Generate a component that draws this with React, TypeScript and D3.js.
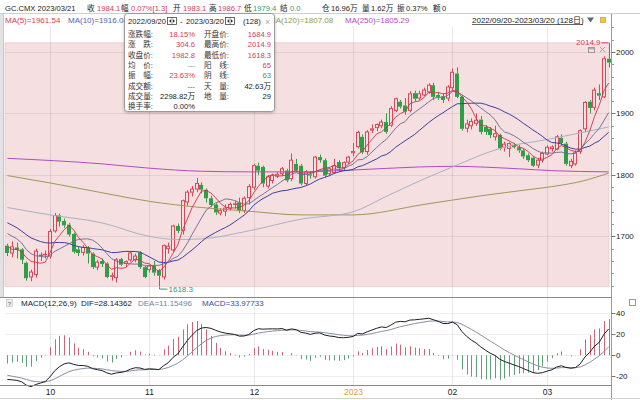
import React from "react";
import * as d3 from "d3";

// ---------- data ----------
const dates = [
  "2022/09/20","2022/09/21","2022/09/22","2022/09/23","2022/09/26","2022/09/27","2022/09/28","2022/09/29","2022/09/30",
  "2022/10/03","2022/10/04","2022/10/05","2022/10/06","2022/10/07","2022/10/10","2022/10/11","2022/10/12","2022/10/13","2022/10/14","2022/10/17","2022/10/18","2022/10/19","2022/10/20","2022/10/21","2022/10/24","2022/10/25","2022/10/26","2022/10/27","2022/10/28","2022/10/31",
  "2022/11/01","2022/11/02","2022/11/03","2022/11/04","2022/11/07","2022/11/08","2022/11/09","2022/11/10","2022/11/11","2022/11/14","2022/11/15","2022/11/16","2022/11/17","2022/11/18","2022/11/21","2022/11/22","2022/11/23","2022/11/24","2022/11/25","2022/11/28","2022/11/29","2022/11/30",
  "2022/12/01","2022/12/02","2022/12/05","2022/12/06","2022/12/07","2022/12/08","2022/12/09","2022/12/12","2022/12/13","2022/12/14","2022/12/15","2022/12/16","2022/12/19","2022/12/20","2022/12/21","2022/12/22","2022/12/23","2022/12/27","2022/12/28","2022/12/29","2022/12/30",
  "2023/01/03","2023/01/04","2023/01/05","2023/01/06","2023/01/09","2023/01/10","2023/01/11","2023/01/12","2023/01/13","2023/01/16","2023/01/17","2023/01/18","2023/01/19","2023/01/20","2023/01/23","2023/01/24","2023/01/25","2023/01/26","2023/01/27","2023/01/30","2023/01/31",
  "2023/02/01","2023/02/02","2023/02/03","2023/02/06","2023/02/07","2023/02/08","2023/02/09","2023/02/10","2023/02/13","2023/02/14","2023/02/15","2023/02/16","2023/02/17","2023/02/20","2023/02/21","2023/02/22","2023/02/23","2023/02/24","2023/02/27","2023/02/28",
  "2023/03/01","2023/03/02","2023/03/03","2023/03/06","2023/03/07","2023/03/08","2023/03/09","2023/03/10","2023/03/13","2023/03/14","2023/03/15","2023/03/16","2023/03/17","2023/03/20",
];

const opens = [
  1684.9,1673,1682,1679,1657,1634,1638,1669,1670,
  1668,1709,1734,1725,1719,1704,1679,1674,1681,1672,1650,1660,1656,1635,1633,1663,1656,1662,1662,1674,1650,
  1646,1652,1645,1634,1680,1678,1717,1710,1756,1772,1777,1784,1776,1762,1752,1738,1741,1746,1752,1755,1742,1763,
  1780,1815,1813,1782,1791,1798,1802,1807,1794,1818,1815,1786,1801,1797,1829,1824,1802,1804,1821,1812,1821,
  1836,1846,1862,1838,1873,1877,1880,1886,1881,1905,1919,1913,1905,1933,1925,1930,1935,1946,1930,1928,1925,
  1942,1965,1927,1876,1880,1884,1890,1878,1875,1862,1865,1845,1843,1849,1845,1840,1832,1828,1816,1824,
  1834,1843,1842,1860,1851,1815,1818,1838,1875,1919,1910,1933,1927,1989,
];
const highs = [
  1688,1692,1690,1681,1659,1646,1680,1674,1677,
  1712,1738,1737,1729,1722,1706,1684,1686,1684,1674,1662,1664,1658,1641,1665,1665,1661,1676,1672,1676,1652,
  1654,1660,1647,1687,1690,1719,1721,1760,1775,1782,1795,1788,1778,1766,1754,1746,1752,1755,1758,1763,1765,1785,
  1818,1820,1815,1800,1802,1805,1813,1810,1835,1826,1818,1808,1806,1831,1833,1827,1812,1826,1824,1822,1831,
  1852,1872,1866,1873,1882,1884,1890,1900,1912,1926,1922,1925,1936,1937,1937,1942,1949,1950,1935,1932,1946,
  1973,1975,1930,1890,1892,1900,1896,1881,1878,1880,1867,1854,1853,1852,1849,1843,1835,1830,1828,1838,
  1848,1848,1865,1866,1854,1826,1840,1874,1920,1922,1942,1947,1993,2014.9,
];
const lows = [
  1668,1666,1664,1655,1628,1627,1633,1660,1664,
  1664,1706,1716,1714,1700,1672,1668,1669,1656,1647,1645,1650,1632,1628,1625,1652,1650,1659,1658,1647,1632,
  1641,1636,1618.3,1630,1672,1675,1705,1703,1750,1765,1772,1770,1755,1748,1735,1734,1733,1742,1745,1738,1738,1752,
  1776,1800,1780,1778,1786,1795,1798,1788,1790,1805,1783,1783,1794,1794,1820,1796,1798,1802,1805,1808,1818,
  1830,1843,1834,1833,1868,1871,1876,1867,1878,1902,1908,1898,1902,1920,1922,1928,1932,1922,1922,1917,1920,
  1936,1925,1872,1869,1874,1880,1866,1865,1860,1856,1840,1838,1829,1843,1836,1826,1821,1813,1811,1820,
  1832,1838,1840,1848,1815,1811,1815,1834,1870,1900,1905,1922,1925,1975,
];
const closes = [
  1673,1683,1678,1662,1632,1642,1676,1669.5,1671,
  1708,1734,1724,1718,1703,1675,1673,1682,1672,1650,1658,1655,1634,1636,1662,1654,1659,1673,1668,1650,1634,
  1652,1641,1636,1685,1684,1717,1709,1758,1772,1777,1786,1776,1762,1751,1739,1742,1746,1752,1753,1742,1762,1781,
  1815,1807,1786,1797,1799,1801,1810,1791,1824,1807,1786,1805,1799,1829,1824,1799,1810,1815,1811,1820,1829,
  1838,1869,1837,1870,1875,1882,1886,1870,1908,1924,1911,1903,1932,1924,1932,1938,1946,1927,1927,1922,1943,
  1967,1927,1875,1883,1887,1889,1870,1870,1865,1867,1843,1850,1851,1845,1840,1830,1824,1815,1824,1835,
  1845,1845.5,1862,1852,1818,1822,1836,1872,1918,1909,1938,1929,1989,1982.8,
];
// closes of the 19 sessions before the first visible bar (for MA5/10/20 warm-up)
const priorCloses = [1761,1761,1771,1749,1749,1736,1726,1709,1721,1713,1727,1721,1728,1740,1711,1709,1677,1683,1678.2];

// long moving averages (bar index, value)
const ma60Idx = [0, 9, 20, 30, 36, 41, 51, 62, 73, 80, 87, 94, 104, 115, 127];
const ma60Val = [1747, 1735, 1722, 1700, 1695, 1696, 1709, 1728, 1740, 1765, 1790, 1813, 1843, 1859, 1878];
const ma120Idx = [0, 9, 20, 30, 41, 51, 62, 73, 88, 100, 110, 115, 122, 127];
const ma120Val = [1799, 1787, 1771, 1757, 1747, 1741, 1735, 1735, 1752, 1766, 1776, 1781, 1791, 1803];
const ma250Idx = [0, 20, 30, 41, 51, 62, 73, 87, 94, 108, 115, 127];
const ma250Val = [1827, 1818, 1811, 1806, 1805, 1805, 1808, 1813, 1814, 1810, 1807, 1805];

// MACD state at the session before the first bar
const ema12Seed = 1716;
const ema26Seed = 1737;
const deaSeed = -18;

const priceTicks = [1700, 1800, 1900, 2000];
const macdTicks = [40, 20, 0, -20];

const headerItems = [
  { t: "GC.CMX 2023/03/21", x: 5, c: "#222" },
  { t: "收", x: 87, c: "#222" }, { t: "1984.1", x: 97, c: "#d23c5a" },
  { t: "幅", x: 121, c: "#222" }, { t: "0.07%[1.3]", x: 131, c: "#d23c5a" },
  { t: "开", x: 173, c: "#222" }, { t: "1983.1", x: 183, c: "#d23c5a" },
  { t: "高", x: 209, c: "#222" }, { t: "1986.7", x: 218, c: "#d23c5a" },
  { t: "低", x: 244, c: "#222" }, { t: "1979.4", x: 253, c: "#2a9d78" },
  { t: "结", x: 280, c: "#222" }, { t: "0.0", x: 290, c: "#2a9d78" },
  { t: "仓", x: 322, c: "#222" }, { t: "16.96万", x: 331, c: "#222" },
  { t: "量", x: 362, c: "#222" }, { t: "1.62万", x: 371, c: "#222" },
  { t: "振", x: 397, c: "#222" }, { t: "0.37%", x: 406, c: "#222" },
  { t: "额", x: 433, c: "#222" }, { t: "0", x: 442, c: "#222" },
];
const legendItems = [
  { t: "MA(5)=1961.54", x: 5, c: "#d8404f" },
  { t: "MA(10)=1916.04", x: 68, c: "#4f63b0" },
  { t: "MA(120)=1807.08", x: 269, c: "#8c9a4e" },
  { t: "MA(250)=1805.29", x: 345, c: "#b04cc4" },
];

const boxLeftLabels = ["涨跌幅:", "涨　跌:", "收盘价:", "均　价:", "振　幅:", "成交额:", "成交量:", "换手率:"];
const boxLeftValues = ["18.15%", "304.6", "1982.8", "---", "23.63%", "---", "2298.82万", "0.00%"];
const boxLeftColors = ["#d23c5a", "#d23c5a", "#d23c5a", "#888", "#d23c5a", "#555", "#222", "#222"];
const boxRightLabels = ["开盘价:", "最高价:", "最低价:", "阳　线:", "阴　线:", "天　量:", "地　量:"];
const boxRightValues = ["1684.9", "2014.9", "1618.3", "65", "63", "42.63万", "29"];
const boxRightColors = ["#d23c5a", "#d23c5a", "#d23c5a", "#d23c5a", "#2a9d78", "#222", "#222"];

const FONT = "'Liberation Sans', 'Noto Sans CJK SC', sans-serif";
const RED = "#d8485a";
const GREEN = "#2f9e44";
const BG = "#f5dfe0";

export default function App() {
  const N = closes.length;
  const x = d3.scaleBand<number>().domain(d3.range(N)).range([5, 611]);
  const step = x.step();
  const cx = (i: number) => Math.round((x(i) as number) + step / 2) + 0.5;
  const cxf = (i: number) => (x(i) as number) + step / 2;
  const y = d3.scaleLinear().domain([1700, 2000]).range([236.4, 52]);
  const ym = d3.scaleLinear().domain([-20, 40]).range([376.4, 313]);

  // moving averages from closes
  const all = priorCloses.concat(closes);
  const off = priorCloses.length;
  const ma = (n: number) => closes.map((_, i) => d3.mean(all.slice(i + off - n + 1, i + off + 1)) as number);
  const ma5 = ma(5), ma10 = ma(10), ma20 = ma(20);

  // MACD
  let e12 = ema12Seed, e26 = ema26Seed, dea = deaSeed;
  const difs: number[] = [], deas: number[] = [], hist: number[] = [];
  closes.forEach((c) => {
    e12 = e12 * 11 / 13 + c * 2 / 13;
    e26 = e26 * 25 / 27 + c * 2 / 27;
    const dif = e12 - e26;
    dea = dea * 0.8 + dif * 0.2;
    difs.push(dif); deas.push(dea); hist.push(2 * (dif - dea));
  });

  const lineIdx = d3.line<number>().x((_, i) => cxf(i)).y((v) => y(v));
  const sampledLine = (idx: number[], vals: number[]) =>
    d3.line<number>().x((_, k) => cxf(idx[k])).y((v) => y(v)).curve(d3.curveMonotoneX)(vals) || "";
  const macdLine = d3.line<number>().x((_, i) => cxf(i)).y((v) => ym(v));

  // month boundaries
  const monthStarts: { i: number; label: string; year: boolean }[] = [];
  dates.forEach((d, i) => {
    if (i > 0 && d.slice(5, 7) !== dates[i - 1].slice(5, 7)) {
      const mm = d.slice(5, 7);
      monthStarts.push({ i, label: mm === "01" ? d.slice(0, 4) : mm, year: mm === "01" });
    }
  });

  const hiIdx = d3.maxIndex(highs);
  const loIdx = d3.minIndex(lows);
  const hi = highs[hiIdx], lo = lows[loIdx];

  const pinkTop = y(hi), pinkBot = y(lo);
  const axisX = 611.5;

  const minorTicks = d3.range(1620, 2041, 20).filter((v) => v % 100 !== 0);
  const BF = 7.6; // box font size

  return (
    <svg width={640} height={400} style={{ position: "fixed", left: 0, top: 0, background: "#fff" }} fontFamily={FONT}>
      <defs>
        <filter id="sh" x="-10%" y="-10%" width="130%" height="130%">
          <feDropShadow dx="0" dy="1" stdDeviation="1.5" floodColor="#000" floodOpacity="0.25" />
        </filter>
      </defs>
      <rect width={640} height={400} fill="#fff" />

      {/* header */}
      {headerItems.map((h, k) => (
        <text key={k} x={h.x} y={11} fontSize={7.6} fill={h.c}>{h.t}</text>
      ))}
      <line x1={0} x2={640} y1={13.5} y2={13.5} stroke="#cfcfcf" />
      <rect x={0} y={14} width={3} height={283} fill="#e2e2e2" />
      <line x1={3.5} x2={3.5} y1={14} y2={297} stroke="#c8c8c8" />

      {/* pink selection band */}
      <rect x={5} y={pinkTop} width={604} height={pinkBot - pinkTop} fill={BG} stroke="#ecc9cd" strokeWidth={0.8} />

      {/* grid */}
      {monthStarts.map((m) => (
        <line key={"vg" + m.i} x1={cx(m.i)} x2={cx(m.i)} y1={26} y2={385} stroke="#000" strokeOpacity={0.09} />
      ))}
      {priceTicks.map((t) => (
        <line key={"hg" + t} x1={5} x2={axisX} y1={Math.round(y(t)) + 0.5} y2={Math.round(y(t)) + 0.5} stroke="#000" strokeOpacity={0.07} />
      ))}

      {/* candles */}
      {closes.map((c, i) => {
        const o = opens[i], h = highs[i], l = lows[i];
        const up = c >= o;
        const X = cx(i);
        const top = y(Math.max(o, c)), bot = y(Math.min(o, c));
        const col = up ? RED : GREEN;
        return (
          <g key={"c" + i}>
            <line x1={X} x2={X} y1={y(h)} y2={top} stroke={col} strokeWidth={1} />
            <line x1={X} x2={X} y1={bot} y2={y(l)} stroke={col} strokeWidth={1} />
            {up ? (
              <rect x={X - 2} y={top} width={3} height={Math.max(bot - top, 0.6)} fill={BG} stroke={col} strokeWidth={1} />
            ) : (
              <rect x={X - 2.5} y={top} width={4} height={Math.max(bot - top, 1)} fill={col} />
            )}
          </g>
        );
      })}

      {/* moving averages */}
      <path d={sampledLine(ma250Idx, ma250Val)} fill="none" stroke="#b04cc4" strokeWidth={1} />
      <path d={sampledLine(ma120Idx, ma120Val)} fill="none" stroke="#9a9a58" strokeWidth={1} />
      <path d={sampledLine(ma60Idx, ma60Val)} fill="none" stroke="#a8b2c2" strokeWidth={1} />
      <path d={lineIdx(ma20) || ""} fill="none" stroke="#3d3fa0" strokeWidth={1} />
      <path d={lineIdx(ma10) || ""} fill="none" stroke="#6a6890" strokeWidth={0.9} />
      <path d={lineIdx(ma5) || ""} fill="none" stroke="#cc3548" strokeWidth={0.9} />

      {/* high / low markers */}
      <text x={cx(hiIdx) - 9} y={y(hi) + 2.5} fontSize={8} fill="#d23c5a" textAnchor="end">{hi.toFixed(1)}</text>
      <line x1={cx(hiIdx) - 8} x2={cx(hiIdx) - 1} y1={y(hi)} y2={y(hi)} stroke="#d23c5a" />
      <path d={`M${cx(loIdx)},${y(lo) + 0.5}V${y(lo) + 2.5}H${cx(loIdx) + 8}`} fill="none" stroke="#2a9d78" />
      <text x={cx(loIdx) + 9} y={y(lo) + 5} fontSize={8} fill="#2a9d78">{lo.toFixed(1)}</text>

      {/* small icons top-right of band */}
      <rect x={588.5} y={47.5} width={6} height={5} fill="none" stroke="#999" />
      <line x1={588.5} x2={594.5} y1={48.8} y2={48.8} stroke="#999" />
      <path d="M600,47 L605,52 M605,47 L600,52" stroke="#999" strokeWidth={0.9} />

      {/* legend */}
      {legendItems.map((l, k) => (
        <text key={"lg" + k} x={l.x} y={23} fontSize={8} fill={l.c}>{l.t}</text>
      ))}
      <text x={472} y={23} fontSize={8} fill="#222">2022/09/20-2023/03/20 (128日)</text>
      <line x1={472} x2={583} y1={24.5} y2={24.5} stroke="#222" strokeWidth={0.7} />
      <path d="M587,17.5 L594,17.5 L590.5,22.5 Z" fill="#666" />
      <rect x={600.5} y={17.5} width={5} height={5} fill="#f3c44a" stroke="#d6a535" strokeWidth={0.8} />

      {/* right price axis */}
      <line x1={axisX} x2={axisX} y1={14} y2={400} stroke="#9a9a9a" />
      {priceTicks.map((t) => (
        <g key={"pt" + t}>
          <line x1={axisX} x2={axisX + 4} y1={Math.round(y(t)) + 0.5} y2={Math.round(y(t)) + 0.5} stroke="#777" />
          <text x={616} y={y(t) + 3} fontSize={8} fill="#222">{t}</text>
        </g>
      ))}
      {minorTicks.map((t) => (
        <line key={"mt" + t} x1={axisX} x2={axisX + 2.5} y1={Math.round(y(t)) + 0.5} y2={Math.round(y(t)) + 0.5} stroke="#999" />
      ))}

      {/* info box */}
      <rect x={124.5} y={13.5} width={150} height={98} rx={3} fill="#fff" stroke="#9a9a9a" filter="url(#sh)" />
      <text x={128} y={24} fontSize={BF} fill="#222">2022/09/20</text>
      <g>
        <rect x={167.5} y={17.5} width={9} height={7} fill="#fff" stroke="#444" strokeWidth={0.8} />
        <line x1={172} x2={172} y1={17.5} y2={24.5} stroke="#444" strokeWidth={0.6} />
        <path d="M171,19.3 L171,22.7 L169,21 Z M173,19.3 L173,22.7 L175,21 Z" fill="#333" />
      </g>
      <text x={180} y={24} fontSize={BF} fill="#222">-</text>
      <text x={186} y={24} fontSize={BF} fill="#222">2023/03/20</text>
      <g>
        <rect x={225.5} y={17.5} width={9} height={7} fill="#fff" stroke="#444" strokeWidth={0.8} />
        <line x1={230} x2={230} y1={17.5} y2={24.5} stroke="#444" strokeWidth={0.6} />
        <path d="M229,19.3 L229,22.7 L227,21 Z M231,19.3 L231,22.7 L233,21 Z" fill="#333" />
      </g>
      <text x={243} y={24} fontSize={BF} fill="#222">(128)</text>
      <text x={265} y={24.5} fontSize={9} fill="#aaa">×</text>
      {boxLeftLabels.map((l, k) => (
        <g key={"bl" + k}>
          <text x={128} y={37 + k * 10.3} fontSize={BF} fill="#333">{l}</text>
          <text x={195} y={37 + k * 10.3} fontSize={BF} fill={boxLeftColors[k]} textAnchor="end">{boxLeftValues[k]}</text>
        </g>
      ))}
      {boxRightLabels.map((l, k) => (
        <g key={"br" + k}>
          <text x={204} y={37 + k * 10.3} fontSize={BF} fill="#333">{l}</text>
          <text x={271} y={37 + k * 10.3} fontSize={BF} fill={boxRightColors[k]} textAnchor="end">{boxRightValues[k]}</text>
        </g>
      ))}

      {/* MACD panel */}
      <line x1={0} x2={axisX} y1={297.5} y2={297.5} stroke="#8a8a8a" strokeWidth={1.2} />
      {macdTicks.map((t) => (
        <g key={"mk" + t}>
          <line x1={5} x2={axisX} y1={Math.round(ym(t)) + 0.5} y2={Math.round(ym(t)) + 0.5} stroke="#000" strokeOpacity={0.06} />
          <line x1={axisX} x2={axisX + 4} y1={Math.round(ym(t)) + 0.5} y2={Math.round(ym(t)) + 0.5} stroke="#777" />
          <text x={616} y={ym(t) + 3} fontSize={8} fill="#222">{t}</text>
        </g>
      ))}
      {hist.map((h, i) => (
        <line key={"h" + i} x1={cx(i)} x2={cx(i)} y1={ym(0)} y2={ym(h)} stroke={h >= 0 ? "#cc6677" : "#5f9f7a"} strokeWidth={1} />
      ))}
      <path d={macdLine(deas) || ""} fill="none" stroke="#8590a0" strokeWidth={1} />
      <path d={macdLine(difs) || ""} fill="none" stroke="#1e1e1e" strokeWidth={1} />

      <rect x={6.5} y={299.5} width={6} height={7} fill="#eee" stroke="#bbb" strokeWidth={0.6} />
      <text x={9.5} y={305.5} fontSize={6} fill="#666" textAnchor="middle">?</text>
      <text x={21} y={306} fontSize={8} fill="#222">MACD(12,26,9)</text>
      <text x={81} y={306} fontSize={8} fill="#222">DIF=28.14362</text>
      <text x={138} y={306} fontSize={8} fill="#6d86a8">DEA=11.15496</text>
      <text x={202} y={306} fontSize={8} fill="#3c4ea0">MACD=33.97733</text>
      <rect x={629.5} y={299.5} width={6} height={6} fill="none" stroke="#999" />

      {/* bottom axis */}
      <line x1={0} x2={axisX} y1={385.5} y2={385.5} stroke="#8a8a8a" />
      {monthStarts.map((m) => (
        <text key={"ml" + m.i} x={cx(m.i)} y={395} fontSize={8.5} fill={m.year ? "#e0a030" : "#222"} textAnchor="middle">{m.label}</text>
      ))}
      <line x1={0} x2={640} y1={398.5} y2={398.5} stroke="#d0d0d0" />
    </svg>
  );
}
